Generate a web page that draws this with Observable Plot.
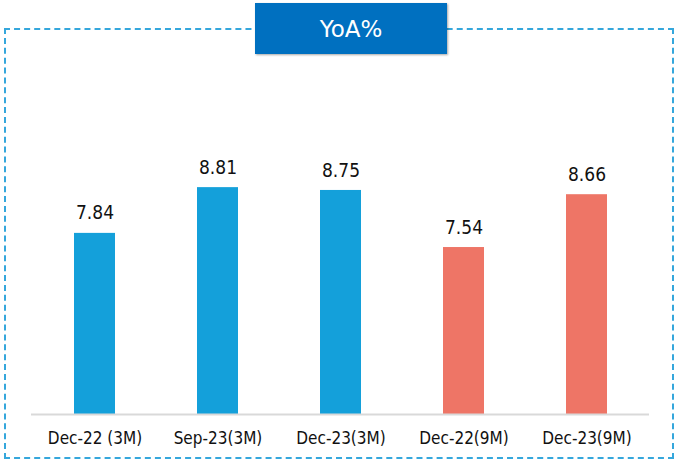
<!DOCTYPE html>
<html>
<head>
<meta charset="utf-8">
<script src="https://cdn.jsdelivr.net/npm/d3@7"></script>
<script src="https://cdn.jsdelivr.net/npm/@observablehq/plot@0.6"></script>
<style>
  html, body { margin: 0; padding: 0; background: #fff; }
  #wrap { position: relative; width: 674px; height: 462px; overflow: hidden; }
  #border { position: absolute; left: 4px; top: 28px; width: 666px; height: 427px; border: 2px dashed #35a7dc; box-sizing: content-box; }
  #title { position: absolute; left: 255px; top: 3px; width: 192px; height: 51px; background: #0070c0; color: #fff;
    font-family: "DejaVu Sans", sans-serif; font-size: 23px; display: flex; align-items: center; justify-content: center;
    box-shadow: 1px 1px 2px rgba(0,0,0,0.35); }
  #chart { position: absolute; left: 0; top: 0; }
</style>
</head>
<body>
<div id="wrap">
  <div id="border"></div>
  <div id="chart"></div>
  <div id="title">YoA%</div>
</div>
<script>
const categories = ["Dec-22 (3M)", "Sep-23(3M)", "Dec-23(3M)", "Dec-22(9M)", "Dec-23(9M)"];
const values = [7.84, 8.81, 8.75, 7.54, 8.66];
const groups = ["3M", "3M", "3M", "9M", "9M"];
const colors = {"3M": "#14a0da", "9M": "#ee7566"};

const data = categories.map((c, i) => ({category: c, value: values[i], group: groups[i]}));

const chart = Plot.plot({
  width: 674,
  height: 462,
  marginTop: 131,
  marginBottom: 48,
  marginLeft: 31,
  marginRight: 25,
  style: {background: "transparent", fontFamily: "DejaVu Sans, sans-serif"},
  x: {domain: categories, paddingInner: 0.67, paddingOuter: 0.335, label: null},
  y: {domain: [4, 10], axis: null},
  marks: [
    Plot.barY(data, {x: "category", y1: 4, y2: "value", fill: d => colors[d.group]}),
    Plot.ruleY([4], {stroke: "#d9d9d9", strokeWidth: 2}),
    Plot.text(data, {x: "category", y: "value", text: d => d.value.toFixed(2), dy: -20, fontSize: 19, fill: "#111",
      fontFamily: "DejaVu Sans Condensed, DejaVu Sans, sans-serif"}),
    Plot.axisX({tickSize: 0, tickPadding: 17, fontSize: 17, fill: "#111", label: null,
      fontFamily: "DejaVu Sans Condensed, DejaVu Sans, sans-serif"})
  ]
});
document.getElementById("chart").appendChild(chart);
</script>
</body>
</html>
